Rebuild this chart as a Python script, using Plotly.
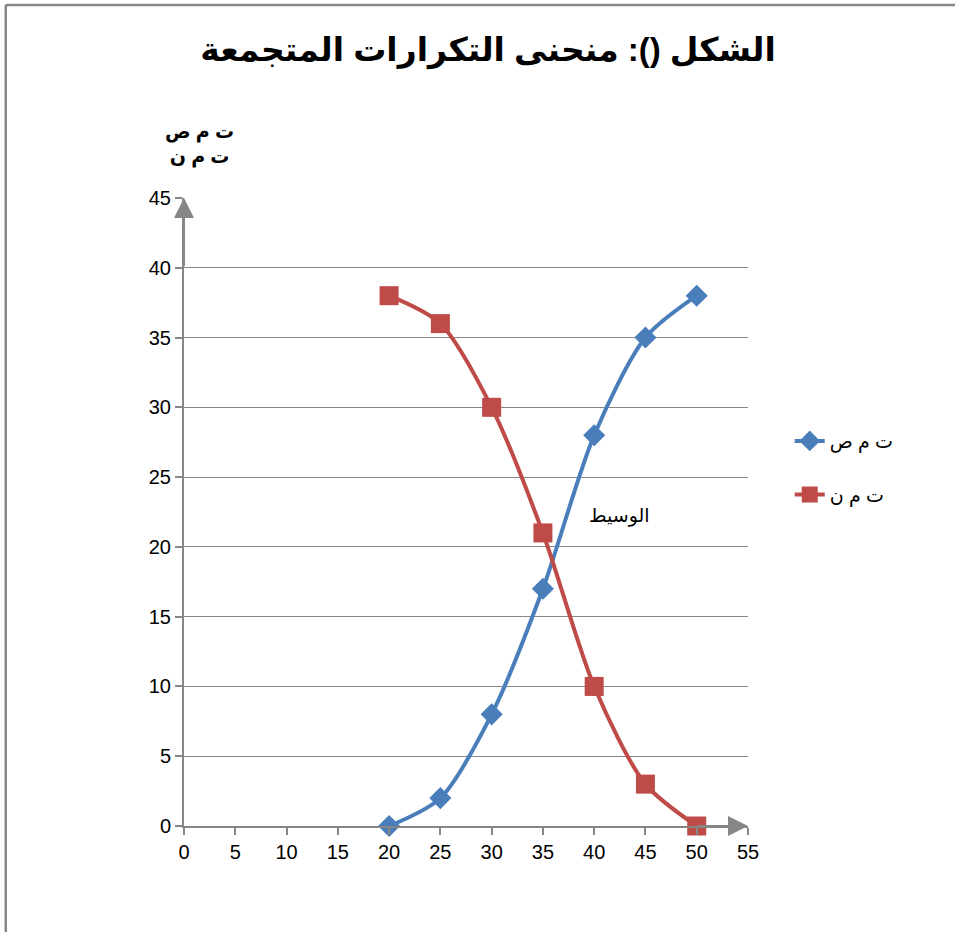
import plotly.graph_objects as go

x_vals = [20, 25, 30, 35, 40, 45, 50]
less_than = [0, 2, 8, 17, 28, 35, 38]      # ت م ص
more_than = [38, 36, 30, 21, 10, 3, 0]     # ت م ن
x_ticks = list(range(0, 60, 5))
y_ticks = list(range(0, 50, 5))

title_text = "الشكل (): منحنى التكرارات المتجمعة"
y_label = "ت م ص<br>ت م ن"
median_label = "الوسيط"
median_pos = (42.5, 22.2)

GRAY = "#868686"
BLUE = "#4a7ebb"
RED = "#be4b48"

fig = go.Figure()
fig.add_trace(go.Scatter(
    x=x_vals, y=less_than, name="ت م ص", mode="lines+markers", legendgroup="a",
    line=dict(color=BLUE, width=4, shape="spline", smoothing=0.8),
    marker=dict(symbol="diamond", size=17, color=BLUE), cliponaxis=False))
fig.add_trace(go.Scatter(
    x=x_vals, y=more_than, name="ت م ن", mode="lines+markers", legendgroup="b",
    line=dict(color=RED, width=4, shape="spline", smoothing=0.8),
    marker=dict(symbol="square", size=19, color=RED), cliponaxis=False))

fig.update_layout(
    width=955, height=932,
    margin=dict(l=184, r=207, t=198, b=106),
    paper_bgcolor="white", plot_bgcolor="white",
    font=dict(family="Liberation Sans, DejaVu Sans, sans-serif", size=20, color="black"),
    title=dict(text=title_text, x=0.539, xref="paper", y=0.947, yanchor="middle", xanchor="center",
               font=dict(family="Liberation Sans, DejaVu Sans, sans-serif", size=33, color="black", weight="bold")),
    showlegend=True,
    legend=dict(x=1.074, y=0.570, xanchor="left", yanchor="middle",
                font=dict(size=19), tracegroupgap=26,
                bgcolor="rgba(0,0,0,0)"),
    xaxis=dict(range=[0, 55], tickvals=x_ticks, showgrid=False, zeroline=False,
               showline=True, linecolor=GRAY, linewidth=2,
               ticks="outside", ticklen=7, tickcolor=GRAY, tickwidth=1.5,
               tickfont=dict(size=20), fixedrange=True),
    yaxis=dict(range=[0, 45], tickvals=y_ticks, showgrid=True, gridcolor=GRAY, gridwidth=1,
               zeroline=False, showline=True, linecolor=GRAY, linewidth=2,
               ticks="outside", ticklen=7, tickcolor=GRAY, tickwidth=1.5,
               tickfont=dict(size=20), fixedrange=True),
)

# outer chart border (left and top edges visible)
fig.add_shape(type="line", xref="paper", yref="paper", x0=-0.316, x1=1.5, y0=1.3073, y1=1.3073,
              line=dict(color=GRAY, width=2.5))
fig.add_shape(type="line", xref="paper", yref="paper", x0=-0.316, x1=-0.316, y0=1.3073, y1=-0.3,
              line=dict(color=GRAY, width=2.5))

# axis arrows
fig.add_annotation(x=55, y=0, ax=50, ay=0, xref="x", yref="y", axref="x", ayref="y",
                   showarrow=True, arrowhead=2, arrowsize=2, arrowwidth=2, arrowcolor=GRAY, text="")
fig.add_annotation(x=0, y=45, ax=0, ay=40, xref="x", yref="y", axref="x", ayref="y",
                   showarrow=True, arrowhead=2, arrowsize=2, arrowwidth=2, arrowcolor=GRAY, text="")

# y axis title
fig.add_annotation(x=0.028, y=1.0844, xref="paper", yref="paper", xanchor="center", yanchor="middle",
                   text=y_label, showarrow=False, font=dict(size=19, weight="bold"), align="center")
# median label
fig.add_annotation(x=median_pos[0], y=median_pos[1], xref="x", yref="y", text=median_label,
                   showarrow=False, font=dict(size=19))

fig.write_html("out.html")
